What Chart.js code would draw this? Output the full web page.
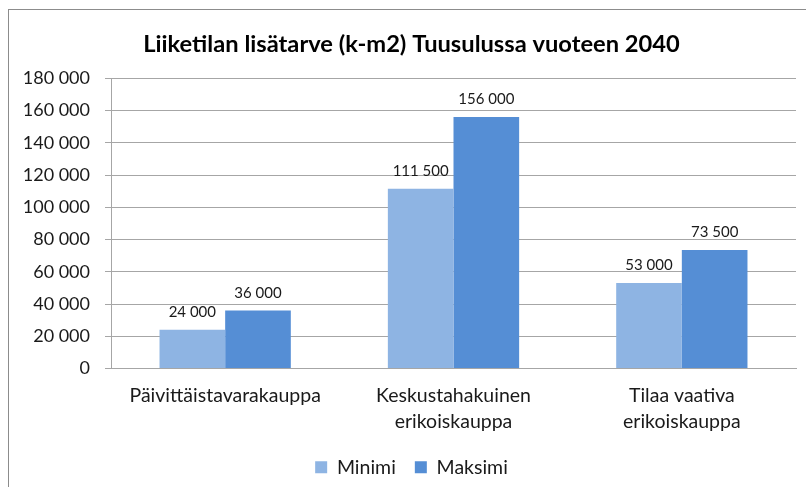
<!DOCTYPE html>
<html>
<head>
<meta charset="utf-8">
<script src="https://cdn.jsdelivr.net/npm/chart.js@4"></script>
<style>
  html, body { margin: 0; padding: 0; background: #fff; }
  #wrap { position: relative; width: 806px; height: 487px; overflow: hidden; }
  #frame { position: absolute; left: 8px; top: 9px; width: 820px; height: 500px; border: 1px solid #8c8c8c; box-sizing: border-box; }
  #c { position: absolute; left: 0; top: 0; }
</style>
</head>
<body>
<div id="wrap">
  <div id="frame"></div>
  <canvas id="c" width="806" height="487"></canvas>
</div>
<script>
const title = 'Liiketilan lisätarve (k-m2) Tuusulussa vuoteen 2040';
const categories = [
  ['Päivittäistavarakauppa'],
  ['Keskustahakuinen', 'erikoiskauppa'],
  ['Tilaa vaativa', 'erikoiskauppa']
];
const seriesNames = ['Minimi', 'Maksimi'];
const minimi = [24000, 111500, 53000];
const maksimi = [36000, 156000, 73500];
const yMin = 0, yMax = 180000, yStep = 20000;

const FONT = 'Lato, "Open Sans", sans-serif';
const fmt = v => String(v).replace(/\B(?=(\d{3})+(?!\d))/g, ' ');

const dataLabels = {
  id: 'dataLabels',
  afterLayout(chart) {
    // let y tick labels extend left of the scale box without being clipped
    if (chart.scales.y) chart.scales.y.left = 0;
  },
  afterDatasetsDraw(chart) {
    const ctx = chart.ctx;
    ctx.save();
    ctx.font = '15px ' + FONT;
    ctx.fillStyle = '#1a1a1a';
    ctx.textAlign = 'center';
    ctx.textBaseline = 'bottom';
    chart.data.datasets.forEach((ds, i) => {
      const meta = chart.getDatasetMeta(i);
      meta.data.forEach((el, j) => {
        ctx.fillText(fmt(ds.data[j]), el.x, el.y - 10);
      });
    });
    ctx.restore();
  }
};

new Chart(document.getElementById('c'), {
  type: 'bar',
  data: {
    labels: categories,
    datasets: [
      { label: seriesNames[0], data: minimi, backgroundColor: '#8eb4e3', borderWidth: 0 },
      { label: seriesNames[1], data: maksimi, backgroundColor: '#558ed5', borderWidth: 0 }
    ]
  },
  options: {
    responsive: false,
    animation: false,
    devicePixelRatio: 1,
    layout: { padding: { left: 27, right: 10, top: 0, bottom: 0 } },
    datasets: { bar: { categoryPercentage: 0.575, barPercentage: 1.0 } },
    plugins: {
      title: {
        display: true,
        text: title,
        color: '#000',
        font: { family: FONT, size: 23.7, weight: 'bold', lineHeight: 1.2 },
        padding: { top: 30, bottom: 20 }
      },
      legend: {
        position: 'bottom',
        labels: {
          color: '#1a1a1a',
          font: { family: FONT, size: 19.5 },
          boxWidth: 12,
          boxHeight: 12,
          padding: 19
        }
      },
      tooltip: { enabled: false }
    },
    scales: {
      x: {
        afterFit(scale) { scale.height = 70; },
        grid: { display: false, drawTicks: false },
        border: { display: true, color: '#a6a6a6' },
        ticks: {
          color: '#1a1a1a',
          font: { family: FONT, size: 19.5, lineHeight: 1.35 },
          padding: 14,
          maxRotation: 0,
          autoSkip: false
        }
      },
      y: {
        min: yMin, max: yMax,
        afterFit(scale) { scale.width = 84; },
        grid: { color: '#a6a6a6', tickLength: 6, drawTicks: true },
        border: { display: true, color: '#a6a6a6' },
        ticks: {
          stepSize: yStep,
          color: '#1a1a1a',
          font: { family: FONT, size: 18 },
          padding: 15,
          callback: v => fmt(v)
        }
      }
    }
  },
  plugins: [dataLabels]
});
</script>
</body>
</html>
